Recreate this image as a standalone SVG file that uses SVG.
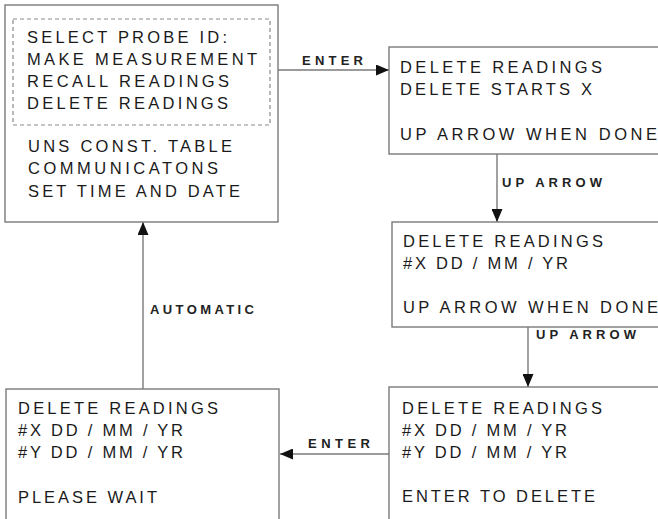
<svg xmlns="http://www.w3.org/2000/svg" width="658" height="519" viewBox="0 0 658 519">
<style>
.box{fill:#fff;stroke:#7a7a7a;stroke-width:1.4}
.dash{fill:none;stroke:#8a8a8a;stroke-width:1.2;stroke-dasharray:4 3}
.t{font-family:"Liberation Sans",Arial,sans-serif;font-size:16.5px;fill:#1a1a1a}
.l{font-family:"Liberation Sans",Arial,sans-serif;font-size:13px;font-weight:bold;fill:#222}
.c{stroke:#7a7a7a;stroke-width:1.4;fill:none}
</style>
<defs>
<marker id="ah" viewBox="0 0 13 11" refX="13" refY="5.5" markerWidth="13" markerHeight="11" markerUnits="userSpaceOnUse" orient="auto">
<path d="M0,0 L13,5.5 L0,11 Z" fill="#111"/>
</marker>
</defs>
<rect width="658" height="519" fill="#fff"/>
<g id="connectors">
<line class="c" x1="278" y1="70" x2="389" y2="70" marker-end="url(#ah)"/>
<line class="c" x1="497" y1="154" x2="497" y2="222" marker-end="url(#ah)"/>
<line class="c" x1="528" y1="327" x2="528" y2="387" marker-end="url(#ah)"/>
<line class="c" x1="389" y1="454" x2="280" y2="454" marker-end="url(#ah)"/>
<line class="c" x1="143" y1="389" x2="143" y2="222" marker-end="url(#ah)"/>
<text class="l" x="302" y="65" textLength="61" lengthAdjust="spacing">ENTER</text>
<text class="l" x="502" y="187" textLength="100" lengthAdjust="spacing">UP ARROW</text>
<text class="l" x="536" y="339" textLength="100" lengthAdjust="spacing">UP ARROW</text>
<text class="l" x="308" y="448" textLength="62" lengthAdjust="spacing">ENTER</text>
<text class="l" x="150" y="314" textLength="104" lengthAdjust="spacing">AUTOMATIC</text>
</g>
<g id="main-menu">
<rect class="box" x="5" y="5" width="273" height="217"/>
<rect class="dash" x="13" y="19" width="257" height="106"/>
<text class="t" x="27" y="43" textLength="200" lengthAdjust="spacing">SELECT PROBE ID:</text>
<text class="t" x="27" y="65" textLength="230" lengthAdjust="spacing">MAKE MEASUREMENT</text>
<text class="t" x="27" y="87" textLength="202" lengthAdjust="spacing">RECALL READINGS</text>
<text class="t" x="27" y="109" textLength="201" lengthAdjust="spacing">DELETE READINGS</text>
<text class="t" x="28" y="152" textLength="204" lengthAdjust="spacing">UNS CONST. TABLE</text>
<text class="t" x="28" y="174" textLength="190" lengthAdjust="spacing">COMMUNICATONS</text>
<text class="t" x="28" y="197" textLength="212" lengthAdjust="spacing">SET TIME AND DATE</text>
</g>
<g id="delete-starts">
<rect class="box" x="389" y="47" width="280" height="107"/>
<text class="t" x="400" y="73" textLength="202" lengthAdjust="spacing">DELETE READINGS</text>
<text class="t" x="400" y="95" textLength="192" lengthAdjust="spacing">DELETE STARTS X</text>
<text class="t" x="400" y="140" textLength="257" lengthAdjust="spacing">UP ARROW WHEN DONE</text>
</g>
<g id="delete-x">
<rect class="box" x="392" y="222" width="280" height="105"/>
<text class="t" x="403" y="247" textLength="200" lengthAdjust="spacing">DELETE READINGS</text>
<text class="t" x="403" y="269" textLength="165" lengthAdjust="spacing">#X DD / MM / YR</text>
<text class="t" x="403" y="313" textLength="255" lengthAdjust="spacing">UP ARROW WHEN DONE</text>
</g>
<g id="enter-to-delete">
<rect class="box" x="389" y="387" width="280" height="150"/>
<text class="t" x="402" y="414" textLength="200" lengthAdjust="spacing">DELETE READINGS</text>
<text class="t" x="402" y="436" textLength="165" lengthAdjust="spacing">#X DD / MM / YR</text>
<text class="t" x="402" y="458" textLength="165" lengthAdjust="spacing">#Y DD / MM / YR</text>
<text class="t" x="402" y="502" textLength="193" lengthAdjust="spacing">ENTER TO DELETE</text>
</g>
<g id="please-wait">
<rect class="box" x="6" y="389" width="273" height="150"/>
<text class="t" x="18" y="414" textLength="200" lengthAdjust="spacing">DELETE READINGS</text>
<text class="t" x="18" y="436" textLength="165" lengthAdjust="spacing">#X DD / MM / YR</text>
<text class="t" x="18" y="458" textLength="165" lengthAdjust="spacing">#Y DD / MM / YR</text>
<text class="t" x="18" y="503" textLength="139" lengthAdjust="spacing">PLEASE WAIT</text>
</g>
</svg>
